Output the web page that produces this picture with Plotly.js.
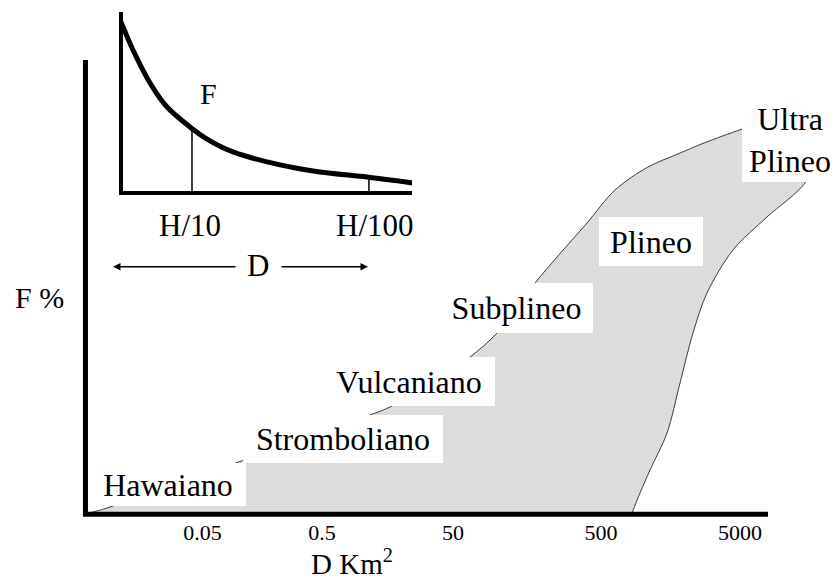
<!DOCTYPE html>
<html>
<head>
<meta charset="utf-8">
<script src="https://cdn.plot.ly/plotly-3.0.1.min.js"></script>
<style>html,body{margin:0;padding:0;background:#fff;}</style>
</head>
<body>
<div id="chart" style="width:838px;height:582px;"></div>
<script>
// ---- Main diagram: eruption-type field (F % vs D km2) ----
const tickPositions = [1.684, 3.441, 5.368, 7.544, 9.588];
const tickLabels = ["0.05", "0.5", "50", "500", "5000"];

// Upper/left boundary of the grey field (left to right), then right boundary (top to bottom)
const fieldX = [0, 0.132, 0.324, 2.382, 3.559, 4.147, 4.441, 5.029, 5.618, 6.015, 6.574, 6.897, 7.338, 7.750, 8.235, 8.676, 9.059, 9.618, 10.32, 10.84,
                10.544, 9.985, 9.485, 9.103, 8.897, 8.706, 8.515, 8.265, 8.118, 8.0];
const fieldY = [0, 0.44, 1.32, 12.14, 18.32, 21.63, 23.40, 28.70, 34.44, 39.74, 50.77, 56.51, 64.02, 71.30, 76.38, 79.26, 81.68, 84.77, 88.5, 82.3,
                72.85, 65.34, 58.06, 48.57, 39.74, 28.70, 17.66, 9.49, 4.42, 0];

const typeNames = ["Hawaiano", "Stromboliano", "Vulcaniano", "Subplineo", "Plineo", "Ultra<br>Plineo"];
const typeX = [1.176, 3.750, 4.721, 6.301, 8.279, 10.324];
const typeY = [6.29, 16.34, 29.03, 45.25, 59.93, 82.34];
const typeBoxW = [156, 200, 172, 153, 104, 96];
const typeBoxH = [43, 48, 49, 50, 49, 84];

// ---- Inset: fragmentation F decaying with distance ----
const insetX = [0, 0.412, 0.997, 1.581, 2.371, 2.955, 3.849, 5.464, 6.838, 8.454, 10.034];
const insetY = [9.45, 7.90, 6.08, 4.75, 3.65, 2.98, 2.27, 1.55, 1.16, 0.88, 0.55];
const markH10 = [2.44, 3.60];   // x, height
const markH100 = [8.52, 0.87];
const insetLabels = ["H/10", "H/100"];

const serif = "'Liberation Serif', 'Times New Roman', Times, serif";

const traces = [
  {
    type: "scatter", mode: "lines", x: fieldX, y: fieldY,
    fill: "toself", fillcolor: "#dcdcdc",
    line: {color: "#3a3a3a", width: 1, shape: "spline", smoothing: 0.9},
    hoverinfo: "skip", showlegend: false, xaxis: "x", yaxis: "y"
  },
  {
    type: "scatter", mode: "lines", x: insetX, y: insetY,
    line: {color: "#000", width: 5, shape: "spline", smoothing: 0.8},
    hoverinfo: "skip", showlegend: false, xaxis: "x2", yaxis: "y2"
  },
  {
    type: "scatter", mode: "lines", x: [markH10[0], markH10[0]], y: [0, markH10[1]],
    line: {color: "#000", width: 1.5}, hoverinfo: "skip", showlegend: false, xaxis: "x2", yaxis: "y2"
  },
  {
    type: "scatter", mode: "lines", x: [markH100[0], markH100[0]], y: [0, markH100[1]],
    line: {color: "#000", width: 1.5}, hoverinfo: "skip", showlegend: false, xaxis: "x2", yaxis: "y2"
  }
];

const txt = (size) => ({family: serif, size: size, color: "#000"});
const centered = {xanchor: "center", yanchor: "middle", showarrow: false};
const annotations = [];
typeNames.forEach((t, i) => {
  annotations.push(Object.assign({
    xref: "x", yref: "y", x: typeX[i], y: typeY[i], text: t,
    bgcolor: "#fff", borderpad: 0, borderwidth: 0, width: typeBoxW[i], height: typeBoxH[i],
    font: txt(32)
  }, centered));
});
// axis titles of the main diagram (paper coordinates)
annotations.push(Object.assign({xref: "paper", yref: "paper", x: 0.3672, y: -0.088, text: "D Km<sup>2</sup>", font: txt(29)}, centered));
annotations.push(Object.assign({xref: "paper", yref: "paper", x: -0.0397, y: 0.4255, text: "F %", font: txt(30)}, centered));
// inset texts
annotations.push(Object.assign({xref: "x2", yref: "y2", x: 2.99, y: 5.52, text: "F", font: txt(30)}, centered));
annotations.push(Object.assign({xref: "paper", yref: "paper", x: 0.15625, y: 0.5629, text: insetLabels[0], font: txt(31)}, centered));
annotations.push(Object.assign({xref: "paper", yref: "paper", x: 0.3971, y: 0.5629, text: insetLabels[1], font: txt(31)}, centered));
annotations.push(Object.assign({xref: "paper", yref: "paper", x: 0.2448, y: 0.4855, text: "D", font: txt(31)}, centered));
annotations.push({xref: "paper", yref: "paper", x: 0.0560, y: 0.4841, ax: 124, ay: 0,
  text: "", showarrow: true, arrowhead: 2, arrowsize: 1, arrowwidth: 1.5, arrowcolor: "#000", standoff: 0, startstandoff: 0});
annotations.push({xref: "paper", yref: "paper", x: 0.3880, y: 0.4841, ax: -88, ay: 0,
  text: "", showarrow: true, arrowhead: 2, arrowsize: 1, arrowwidth: 1.5, arrowcolor: "#000", standoff: 0, startstandoff: 0});

const layout = {
  width: 838, height: 582,
  margin: {l: 70, r: 0, t: 0, b: 65, pad: 0},
  paper_bgcolor: "#fff", plot_bgcolor: "rgba(0,0,0,0)",
  showlegend: false,
  font: txt(22),
  xaxis: {
    domain: [0, 1], range: [-0.2647, 11.0294], showgrid: false, zeroline: false, showline: false,
    tickmode: "array", tickvals: tickPositions, ticktext: tickLabels, ticks: "",
    tickfont: txt(22), fixedrange: true
  },
  yaxis: {
    domain: [0, 1], range: [-0.883, 113.245], visible: false, fixedrange: true
  },
  xaxis2: {
    domain: [0.0690, 0.4453], range: [0.0687, 10.0], anchor: "y2",
    showgrid: false, zeroline: false, showline: true, linecolor: "#000", linewidth: 4,
    showticklabels: false, ticks: "", fixedrange: true
  },
  yaxis2: {
    domain: [0.6306, 0.9768], range: [0.1105, 10.0], anchor: "x2",
    showgrid: false, zeroline: false, showline: true, linecolor: "#000", linewidth: 4,
    showticklabels: false, ticks: "", fixedrange: true
  },
  shapes: [
    {type: "line", xref: "x", yref: "y", x0: -0.037, x1: -0.037, y0: -0.66, y1: 100.0,
     line: {color: "#000", width: 5}},
    {type: "line", xref: "x", yref: "y", x0: -0.074, x1: 10.0, y0: -0.3, y1: -0.3,
     line: {color: "#000", width: 5}}
  ],
  annotations: annotations
};

Plotly.newPlot("chart", traces, layout, {displayModeBar: false, staticPlot: true});
</script>
</body>
</html>
